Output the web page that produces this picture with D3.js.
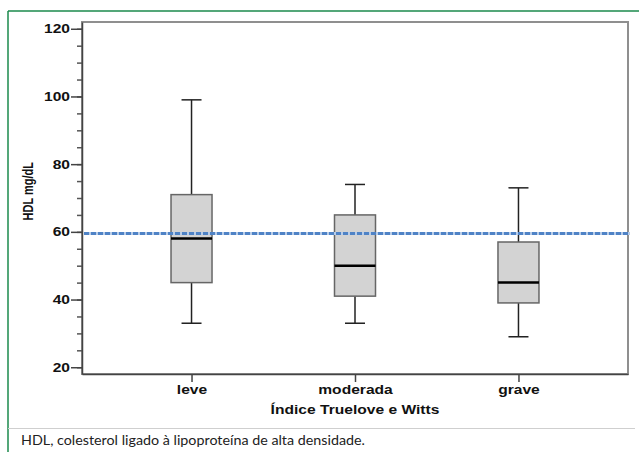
<!DOCTYPE html>
<html>
<head>
<meta charset="utf-8">
<script src="https://cdn.jsdelivr.net/npm/d3@7"></script>
<style>
  body { margin: 0; background: #fff; }
  svg { display: block; }
</style>
</head>
<body>
<svg id="drawing_region"></svg>
<script>
// box plot values
const categories = ['leve', 'moderada', 'grave'];
const whiskerLow = [33, 33, 29];
const q1 = [45, 41, 39];
const median = [58, 50, 45];
const q3 = [71, 65, 57];
const whiskerHigh = [99, 74, 73];
const refValue = 59.5;
const majorTicks = [20, 40, 60, 80, 100, 120];
const minorTicks = d3.range(20, 121, 5);

const data = categories.map((c, i) => ({
    cat: c, lo: whiskerLow[i], q1: q1[i], med: median[i], q3: q3[i], hi: whiskerHigh[i]
}));

const width = 639, height = 452;
const margin = { top: 22, right: 11, bottom: 78, left: 82 };
const innerW = width - margin.left - margin.right;
const innerH = height - margin.top - margin.bottom;
const stretch = 1.3; // the original labels are wide, like a stretched Arial
const labelFont = 'Liberation Sans, Arial, sans-serif';

const svg = d3.select('#drawing_region')
    .attr('width', width)
    .attr('height', height);

// outer panel
svg.append('line').attr('x1', 8).attr('x2', width).attr('y1', 11).attr('y2', 11)
    .attr('stroke', '#1b8a4c').attr('stroke-width', 1.5);
svg.append('line').attr('x1', 8).attr('x2', 8).attr('y1', 11).attr('y2', height)
    .attr('stroke', '#1b8a4c').attr('stroke-width', 1.5);
svg.append('line').attr('x1', 8).attr('x2', 635).attr('y1', 428.5).attr('y2', 428.5)
    .attr('stroke', '#cfcfcf').attr('stroke-width', 1);

svg.append('text')
    .attr('x', 21).attr('y', 445)
    .attr('font-family', 'Lato, sans-serif')
    .attr('font-size', 14.3)
    .attr('fill', '#222')
    .text('HDL, colesterol ligado à lipoproteína de alta densidade.');

const chart = svg.append('g')
    .attr('transform', `translate(${margin.left}, ${margin.top})`);

const y = d3.scaleLinear().domain([18, 122]).range([innerH, 0]);
const x = d3.scalePoint().domain(categories).range([0, innerW]).padding(0.67);

// frame
chart.append('rect')
    .attr('x', 0).attr('y', 0).attr('width', innerW).attr('height', innerH)
    .attr('fill', 'none').attr('stroke', '#8f8f8f').attr('stroke-width', 2);

// y axis
const yMinor = d3.axisLeft(y).tickValues(minorTicks).tickSize(5).tickSizeOuter(0).tickFormat('');
const yMajor = d3.axisLeft(y).tickValues(majorTicks).tickSize(11).tickSizeOuter(0);

chart.append('g').call(yMinor)
    .call(g => g.select('.domain').remove())
    .call(g => g.selectAll('line').attr('stroke', '#555').attr('stroke-width', 1.5));

chart.append('g').call(yMajor)
    .call(g => g.select('.domain').attr('stroke', '#444').attr('stroke-width', 1.5))
    .call(g => g.selectAll('line').attr('stroke', '#444').attr('stroke-width', 1.5))
    .call(g => g.selectAll('text')
        .attr('x', -12 / stretch)
        .attr('transform', `scale(${stretch}, 1)`)
        .attr('font-family', labelFont)
        .attr('font-weight', 'bold')
        .attr('font-size', 12)
        .attr('fill', '#111'));

// x axis
chart.append('g')
    .attr('transform', `translate(0, ${innerH})`)
    .call(d3.axisBottom(x).tickSize(8).tickSizeOuter(0).tickPadding(3.5))
    .call(g => g.select('.domain').attr('stroke', '#444').attr('stroke-width', 1.5))
    .call(g => g.selectAll('line').attr('stroke', '#444').attr('stroke-width', 1.5))
    .call(g => g.selectAll('text')
        .attr('transform', `scale(${stretch}, 1)`)
        .attr('font-family', labelFont)
        .attr('font-weight', 'bold')
        .attr('font-size', 12)
        .attr('fill', '#111'));

// axis titles
chart.append('text')
    .attr('transform', `translate(${innerW / 2}, ${innerH + 40}) scale(${stretch}, 1)`)
    .attr('text-anchor', 'middle')
    .attr('font-family', labelFont)
    .attr('font-weight', 'bold')
    .attr('font-size', 12)
    .attr('fill', '#111')
    .text('Índice Truelove e Witts');

chart.append('text')
    .attr('transform', `translate(${-49}, ${y(72)}) rotate(-90) scale(1, ${stretch})`)
    .attr('text-anchor', 'middle')
    .attr('font-family', labelFont)
    .attr('font-weight', 'bold')
    .attr('font-size', 11)
    .attr('fill', '#111')
    .text('HDL mg/dL');

// boxes
const boxW = 41, capW = 20;
const boxes = chart.selectAll('.box').data(data).join('g')
    .attr('class', 'box')
    .attr('transform', d => `translate(${x(d.cat)}, 0)`);

boxes.append('line')
    .attr('x1', 0).attr('x2', 0)
    .attr('y1', d => y(d.hi)).attr('y2', d => y(d.q3))
    .attr('stroke', '#222').attr('stroke-width', 1.5);
boxes.append('line')
    .attr('x1', 0).attr('x2', 0)
    .attr('y1', d => y(d.q1)).attr('y2', d => y(d.lo))
    .attr('stroke', '#222').attr('stroke-width', 1.5);
boxes.append('line')
    .attr('x1', -capW / 2).attr('x2', capW / 2)
    .attr('y1', d => y(d.hi)).attr('y2', d => y(d.hi))
    .attr('stroke', '#222').attr('stroke-width', 1.5);
boxes.append('line')
    .attr('x1', -capW / 2).attr('x2', capW / 2)
    .attr('y1', d => y(d.lo)).attr('y2', d => y(d.lo))
    .attr('stroke', '#222').attr('stroke-width', 1.5);
boxes.append('rect')
    .attr('x', -boxW / 2).attr('width', boxW)
    .attr('y', d => y(d.q3)).attr('height', d => y(d.q1) - y(d.q3))
    .attr('fill', '#d3d3d3').attr('stroke', '#666').attr('stroke-width', 1.5);
boxes.append('line')
    .attr('x1', -boxW / 2).attr('x2', boxW / 2)
    .attr('y1', d => y(d.med)).attr('y2', d => y(d.med))
    .attr('stroke', '#000').attr('stroke-width', 2.5);

// reference line
const refY = y(refValue);
chart.append('line')
    .attr('x1', 2).attr('x2', innerW + 2)
    .attr('y1', refY).attr('y2', refY)
    .attr('stroke', '#b8cde9').attr('stroke-width', 3);
chart.append('line')
    .attr('x1', 2).attr('x2', innerW + 2)
    .attr('y1', refY).attr('y2', refY)
    .attr('stroke', '#4f83c6').attr('stroke-width', 3)
    .attr('stroke-dasharray', '5,2');
</script>
</body>
</html>
